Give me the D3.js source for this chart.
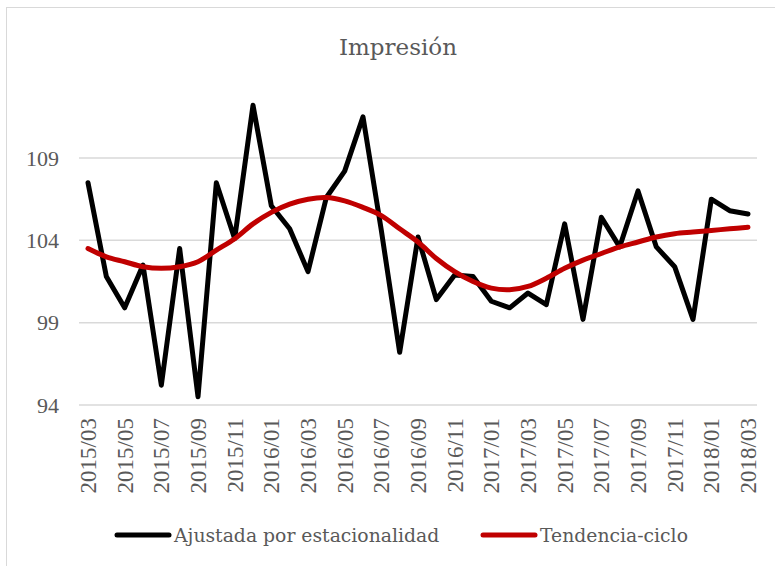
<!DOCTYPE html>
<html>
<head>
<meta charset="utf-8">
<script src="https://cdn.jsdelivr.net/npm/d3@7"></script>
<style>
  body { margin: 0; background: #fff; }
  svg { display: block; font-family: "Liberation Serif", "DejaVu Serif", serif; }
</style>
</head>
<body>
<svg id="chart" width="775" height="566"></svg>
<script>
// months 2015/03 .. 2018/03
var months = [];
for (var y = 2015; y <= 2018; y++) {
  for (var m = 1; m <= 12; m++) {
    if ((y == 2015 && m < 3) || (y == 2018 && m > 3)) continue;
    months.push(y + "/" + (m < 10 ? "0" + m : m));
  }
}

var ajustada = [107.5, 101.8, 99.9, 102.5, 95.2, 103.5, 94.5, 107.5, 104.1, 112.2,
                106.1, 104.7, 102.1, 106.6, 108.2, 111.5, 104.6, 97.2, 104.2, 100.4,
                101.9, 101.8, 100.3, 99.9, 100.8, 100.1, 105.0, 99.2, 105.4, 103.6,
                107.0, 103.6, 102.4, 99.2, 106.5, 105.8, 105.6];

var tendencia = [103.5, 103.0, 102.7, 102.4, 102.3, 102.4, 102.7, 103.4, 104.1, 105.0,
                 105.7, 106.2, 106.5, 106.6, 106.4, 106.0, 105.5, 104.7, 103.9, 102.9,
                 102.1, 101.5, 101.1, 101.0, 101.2, 101.7, 102.3, 102.8, 103.2, 103.6,
                 103.9, 104.2, 104.4, 104.5, 104.6, 104.7, 104.8];

var yTicks = [94, 99, 104, 109];
var tickMonths = months.filter(function(d, i) { return i % 2 == 0; });

var svg = d3.select("#chart");
var textColor = "#595959";

// outer border
svg.append("rect")
   .attr("x", 6.5).attr("y", 7.5).attr("width", 800).attr("height", 600)
   .attr("fill", "none").attr("stroke", "#d9d9d9").attr("stroke-width", 1);

var x = d3.scalePoint().domain(months).range([88, 748]);
var yScale = d3.scaleLinear().domain([94, 109]).range([405, 158]);

// title
svg.append("text")
   .attr("x", 398).attr("y", 55)
   .attr("text-anchor", "middle")
   .attr("font-family", "DejaVu Serif")
   .attr("font-size", 23)
   .attr("fill", textColor)
   .text("Impresión");

// gridlines
svg.append("g").selectAll("line")
   .data(yTicks)
   .enter().append("line")
   .attr("x1", 79).attr("x2", 757)
   .attr("y1", function(d) { return yScale(d); })
   .attr("y2", function(d) { return yScale(d); })
   .attr("stroke", "#d9d9d9").attr("stroke-width", 1.5);

// y axis labels
var yAxis = d3.axisLeft(yScale).tickValues(yTicks).tickSize(0).tickPadding(0);
var gy = svg.append("g").attr("transform", "translate(59,0)").call(yAxis);
gy.select(".domain").remove();
gy.selectAll("text")
  .attr("font-family", "Liberation Serif")
  .attr("font-size", 22)
  .attr("fill", textColor);

// x axis labels (rotated)
var xAxis = d3.axisBottom(x).tickValues(tickMonths).tickSize(0).tickPadding(0);
var gx = svg.append("g").attr("transform", "translate(0,418)").call(xAxis);
gx.select(".domain").remove();
gx.selectAll("text")
  .attr("font-family", "Liberation Serif")
  .attr("font-size", 23)
  .attr("fill", textColor)
  .attr("text-anchor", "end")
  .attr("dy", "0.33em")
  .attr("transform", "rotate(-90)")
  .attr("x", 0).attr("y", 0);

// lines
var lineA = d3.line()
   .x(function(d, i) { return x(months[i]); })
   .y(function(d) { return yScale(d); });

var lineT = d3.line()
   .x(function(d, i) { return x(months[i]); })
   .y(function(d) { return yScale(d); })
   .curve(d3.curveCatmullRom);

svg.append("path")
   .datum(ajustada)
   .attr("d", lineA)
   .attr("fill", "none").attr("stroke", "#000")
   .attr("stroke-width", 5).attr("stroke-linejoin", "round").attr("stroke-linecap", "round");

svg.append("path")
   .datum(tendencia)
   .attr("d", lineT)
   .attr("fill", "none").attr("stroke", "#c00000")
   .attr("stroke-width", 5).attr("stroke-linecap", "round");

// legend
var legend = [
  {name: "Ajustada por estacionalidad", color: "#000", x: 117},
  {name: "Tendencia-ciclo", color: "#c00000", x: 483}
];
var lg = svg.append("g").selectAll("g").data(legend).enter().append("g")
   .attr("transform", function(d) { return "translate(" + d.x + ",535)"; });
lg.append("line")
  .attr("x1", 0).attr("x2", 52).attr("y1", 0).attr("y2", 0)
  .attr("stroke", function(d) { return d.color; })
  .attr("stroke-width", 5).attr("stroke-linecap", "round");
lg.append("text")
  .attr("x", 57).attr("y", 0).attr("dy", "0.35em")
  .attr("font-family", "DejaVu Serif")
  .attr("font-size", 18.8)
  .attr("fill", textColor)
  .text(function(d) { return d.name; });
</script>
</body>
</html>
